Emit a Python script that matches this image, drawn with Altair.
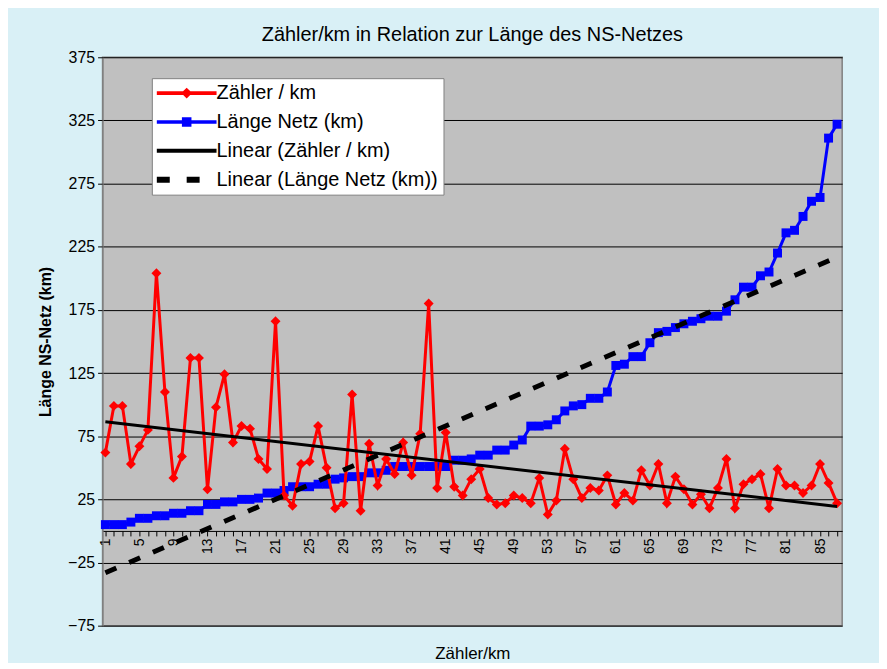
import altair as alt
import pandas as pd

# ---------------- data ----------------
categories = list(range(1, 88))

zaehler_pro_km = [62, 99, 99, 53, 67, 80, 204, 110, 42, 59,
                  137, 137, 33, 98, 124, 70, 83, 81, 57, 49,
                  166, 28, 20, 53, 55, 83, 50, 18, 22, 108,
                  16, 69, 36, 57, 45, 70, 44, 77, 180, 34,
                  78, 35, 28, 41, 49, 26, 21, 22, 28, 26,
                  22, 42, 13, 24, 65, 41, 26, 34, 32, 44,
                  21, 30, 24, 48, 36, 53, 22, 43, 33, 21,
                  29, 18, 34, 57, 18, 37, 41, 45, 18, 49,
                  36, 36, 30, 36, 53, 38, 22]

laenge_netz = [5, 5, 5, 7, 10, 10, 12, 12, 14, 14,
               16, 16, 21, 21, 23, 23, 25, 25, 26, 30,
               30, 32, 35, 35, 35, 37, 37, 41, 42, 43,
               43, 46, 46, 48, 51, 51, 51, 51, 51, 51,
               51, 56, 56, 57, 60, 60, 64, 64, 68, 72,
               83, 83, 84, 88, 95, 99, 100, 105, 105, 110,
               131, 132, 138, 138, 149, 157, 158, 161, 164, 166,
               168, 170, 170, 174, 183, 193, 193, 202, 205, 220,
               236, 238, 249, 261, 264, 311, 322]

series_names = ["Zähler / km", "Länge Netz (km)",
                "Linear (Zähler / km)", "Linear (Länge Netz (km))"]
series_colors = ["#FF0000", "#0000FF", "#000000", "#000000"]

y_ticks = [-75, -25, 25, 75, 125, 175, 225, 275, 325, 375]
x_label_values = [1, 5, 9, 13, 17, 21, 25, 29, 33, 37, 41, 45, 49, 53, 57,
                  61, 65, 69, 73, 77, 81, 85]

# ---------------- layout / style ----------------
W, H = 743, 571
Y_MIN, Y_MAX = -75, 375
X_DOMAIN = [0.67, 87.6]
FONT = "Liberation Sans"
x_axis_offset = -H * (0 - Y_MIN) / (Y_MAX - Y_MIN)

# legend symbols (line + marker) as custom paths, unit = sqrt(size)/2 px
legend_paths = [
    "M-1,-0.18L5,-0.18L5,0.18L-1,0.18Z M2,-0.55L2.55,0L2,0.55L1.45,0Z",
    "M-1,-0.18L5,-0.18L5,0.18L-1,0.18Z M1.52,-0.48L2.48,-0.48L2.48,0.48L1.52,0.48Z",
    "M-1,-0.2L5,-0.2L5,0.2L-1,0.2Z",
    "M-1,-0.3L0.3,-0.3L0.3,0.3L-1,0.3Z M2,-0.3L3.3,-0.3L3.3,0.3L2,0.3Z",
]

long_df = pd.concat([
    pd.DataFrame({"i": categories, "v": zaehler_pro_km, "series": series_names[0]}),
    pd.DataFrame({"i": categories, "v": laenge_netz, "series": series_names[1]}),
])

label_expr = "indexof(" + str(x_label_values) + ", datum.value) >= 0 ? datum.label : ''"

x_enc = alt.X(
    "i:Q",
    scale=alt.Scale(domain=X_DOMAIN, nice=False, zero=False),
    axis=alt.Axis(
        values=categories,
        labelExpr=label_expr,
        labelAngle=-90,
        labelFont=FONT,
        labelFontSize=14,
        labelColor="black",
        labelOverlap=False,
        labelFlush=False,
        labelPadding=2,
        tickSize=5,
        tickColor="black",
        domainColor="black",
        domainWidth=1,
        grid=False,
        offset=x_axis_offset,
        title="Zähler/km",
        titleFont=FONT,
        titleFontSize=17,
        titleFontWeight="normal",
        titleColor="black",
        titleY=123,
        titleBaseline="middle",
    ),
)

y_enc = alt.Y(
    "v:Q",
    scale=alt.Scale(domain=[Y_MIN, Y_MAX], nice=False, zero=False),
    axis=alt.Axis(
        values=y_ticks,
        grid=True,
        gridColor="black",
        gridWidth=1,
        gridOpacity=1,
        tickSize=5,
        tickColor="black",
        domainColor="#808080",
        labelFont=FONT,
        labelFontSize=16,
        labelColor="black",
        labelPadding=3,
        title="Länge NS-Netz (km)",
        titleFont=FONT,
        titleFontSize=16,
        titleFontWeight="bold",
        titleColor="black",
        titlePadding=14,
    ),
)

base = alt.Chart(long_df).encode(x=x_enc, y=y_enc)

blue_f = alt.datum.series == series_names[1]
red_f = alt.datum.series == series_names[0]

blue_line = base.transform_filter(blue_f).mark_line(color="#0000FF", strokeWidth=3)
blue_pts = base.transform_filter(blue_f).mark_point(
    shape="square", filled=True, size=81, color="#0000FF", opacity=1, strokeWidth=0)
red_line = base.transform_filter(red_f).mark_line(color="#FF0000", strokeWidth=3)
red_pts = base.transform_filter(red_f).mark_point(
    shape="diamond", filled=True, size=100, color="#FF0000", opacity=1, strokeWidth=0)

red_trend = (base.transform_filter(red_f)
             .transform_regression("i", "v", method="linear")
             .mark_line(color="black", strokeWidth=3))
blue_trend = (base.transform_filter(blue_f)
              .transform_regression("i", "v", method="linear")
              .mark_line(color="black", strokeWidth=5, strokeDash=[12, 14], strokeCap="butt"))

legend_def = dict(
    title=None,
    orient="none",
    legendX=49.5,
    legendY=21,
    fillColor="white",
    strokeColor="#808080",
    padding=5,
    labelFont=FONT,
    labelFontSize=20,
    labelColor="black",
    labelLimit=500,
    labelOffset=40,
    symbolSize=400,
    symbolStrokeWidth=0,
    symbolOpacity=1,
    rowPadding=9,
)

legend_layer = base.transform_filter("false").mark_point(
    filled=True, opacity=1, strokeWidth=0
).encode(
    color=alt.Color("series:N", scale=alt.Scale(domain=series_names, range=series_colors),
                    legend=alt.Legend(**legend_def)),
    shape=alt.Shape("series:N", scale=alt.Scale(domain=series_names, range=legend_paths),
                    legend=alt.Legend(**legend_def)),
)

chart = alt.layer(
    blue_line, blue_pts, red_line, red_pts, red_trend, blue_trend, legend_layer
).properties(
    width=W,
    height=H,
    title=alt.TitleParams(
        text="Zähler/km in Relation zur Länge des NS-Netzes",
        font=FONT, fontSize=20, fontWeight="normal", color="black",
        anchor="middle", frame="group", offset=4,
    ),
    background="#D9F0F6",
    autosize=alt.AutoSizeParams(type="none"),
    padding={"left": 95, "top": 48, "right": 37, "bottom": 36},
).configure_view(
    fill="#C0C0C0", stroke="#808080", strokeWidth=1.5
)

chart.save("out.html", embed_options={"renderer": "svg", "actions": False})
